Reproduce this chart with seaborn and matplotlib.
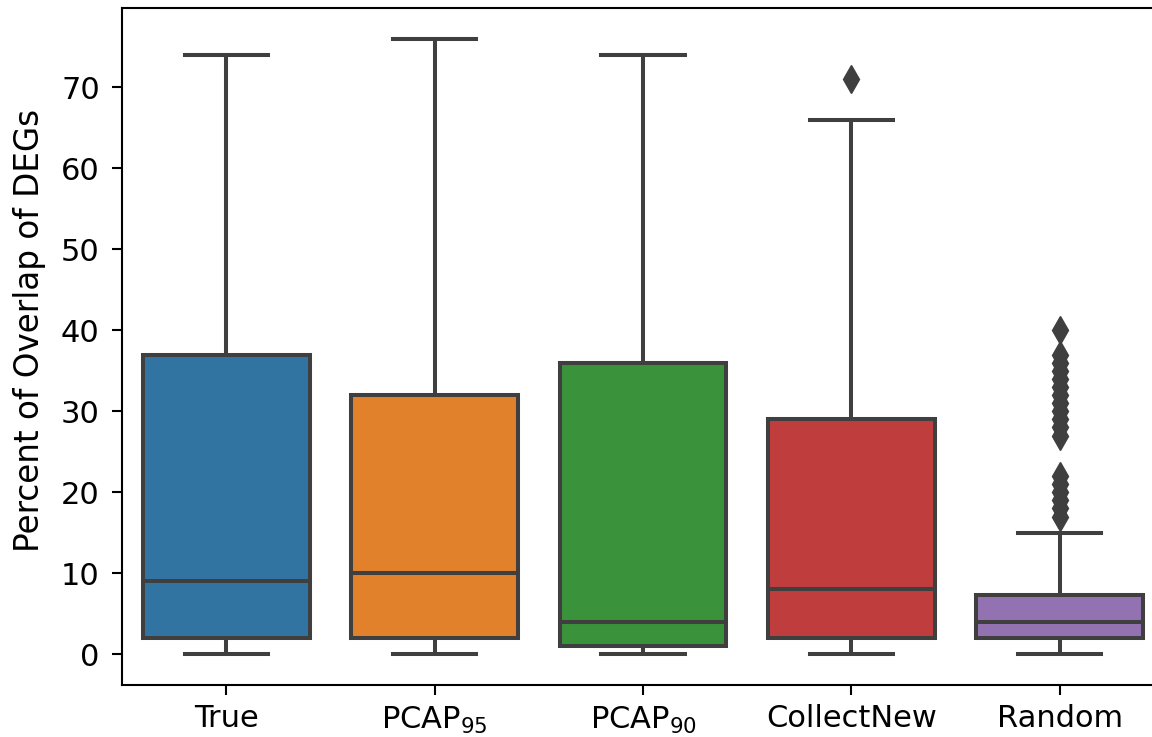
import numpy as np
import pandas as pd
import matplotlib
matplotlib.use("Agg")
import matplotlib.pyplot as plt
import seaborn as sns

# categories and labels
methods = ["True", "PCAP95", "PCAP90", "CollectNew", "Random"]
tick_labels = ["True", "PCAP$_{95}$", "PCAP$_{90}$", "CollectNew", "Random"]

true_vals = [0, 1, 2, 5, 9, 20, 37, 55, 74]
pcap95_vals = [0, 1, 2, 6, 10, 20, 32, 50, 76]
pcap90_vals = [0, 0.5, 1, 2, 4, 15, 36, 55, 74]
collectnew_vals = [0, 1, 2, 5, 8, 15, 29, 66, 71]

# Random has many repeated values -> value levels + how often each occurs
random_levels = [0, 1, 2, 3, 4, 5, 6, 7, 7.3, 8, 10, 15,
                 17, 18, 19, 20, 21, 22,
                 27, 28, 29, 30, 31, 32, 33, 34, 35, 36, 37, 40]
random_counts = [5, 8, 16, 8, 12, 6, 5, 3, 1, 1, 1, 1,
                 1, 1, 1, 1, 1, 1,
                 1, 1, 1, 1, 1, 1, 1, 1, 1, 1, 1, 1]
random_vals = list(np.repeat(random_levels, random_counts))

colors = ["#1f77b4", "#ff7f0e", "#2ca02c", "#d62728", "#9467bd"]
line_gray = "#3f3f3f"

groups = [true_vals, pcap95_vals, pcap90_vals, collectnew_vals, random_vals]
df = pd.concat(
    [pd.DataFrame({"method": m, "value": v}) for m, v in zip(methods, groups)],
    ignore_index=True,
)

fig = plt.figure(figsize=(11.52, 7.37), dpi=100)
ax = fig.add_axes([0.1059, 0.0706, 0.9045, 0.9185])

sns.boxplot(
    data=df, x="method", y="value", hue="method", order=methods,
    palette=colors, saturation=0.75, width=0.8, linewidth=2.9,
    linecolor=line_gray, fliersize=14,
    flierprops=dict(marker="d", markerfacecolor=line_gray,
                    markeredgecolor=line_gray),
    legend=False, ax=ax,
)

ax.set_xticks(range(len(methods)))
ax.set_xticklabels(tick_labels)
ax.set_yticks(range(0, 80, 10))
ax.set_xlabel("")
ax.set_ylabel("Percent of Overlap of DEGs", fontsize=23.5)
ax.yaxis.set_label_coords(-0.073, 0.523)
ax.tick_params(labelsize=22, length=7, width=1.5)
ax.tick_params(axis="x", pad=7)
ax.tick_params(axis="y", pad=9)
for s in ax.spines.values():
    s.set_linewidth(1.5)

fig.savefig("out.png", dpi=100)
